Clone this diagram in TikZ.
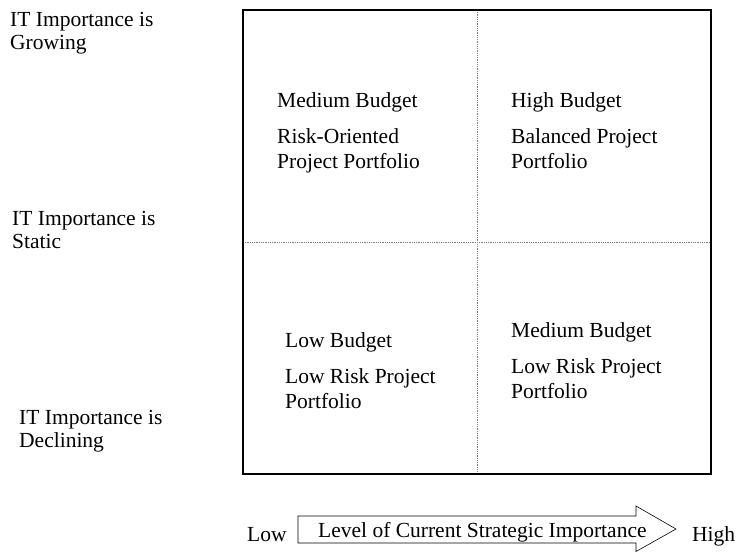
\documentclass[tikz,border=0pt]{standalone}
\usepackage{fontspec}
\setmainfont{Liberation Serif}
\tikzset{
  lbl/.style={anchor=base west,inner sep=0pt,align=left,font=\fontsize{21.5}{23}\selectfont},
  quad/.style={anchor=base west,inner sep=0pt,align=left,font=\fontsize{21.5}{25}\selectfont},
  grid/.style={gray,densely dotted,line width=0.8pt}
}
\begin{document}
\begin{tikzpicture}[x=1pt,y=-1pt]
  \useasboundingbox (0,0) rectangle (739,552);
  % matrix frame
  \coordinate (nw) at (243,10);
  \coordinate (se) at (711,474);
  \draw[grid] (477,10) -- (477,474);
  \draw[grid] (243,242) -- (711,242);
  \draw[line width=1.1pt] (nw) rectangle (se);
  % row labels (base = last line)
  \node[lbl] (grow) at (10,49) {IT Importance is\\Growing};
  \node[lbl] (stat) at (12,248) {IT Importance is\\Static};
  \node[lbl] (decl) at (19,447) {IT Importance is\\Declining};
  % quadrants
  \node[quad] (q1) at (277,168) {Medium Budget\\[11pt]Risk-Oriented\\Project Portfolio};
  \node[quad] (q2) at (511,168) {High Budget\\[11pt]Balanced Project\\Portfolio};
  \node[quad] (q3) at (285,408) {Low Budget\\[11pt]Low Risk Project\\Portfolio};
  \node[quad] (q4) at (511,398) {Medium Budget\\[11pt]Low Risk Project\\Portfolio};
  % axis arrow
  \draw[line width=0.6pt] (298,516) -- (636,516) -- (636,506) -- (676,529)
    -- (636,551.5) -- (636,543) -- (298,543) -- cycle;
  \node[lbl] (lvl) at (318,537) {Level of Current Strategic Importance};
  \node[lbl] (low) at (247,541) {Low};
  \node[lbl] (high) at (692,541) {High};
\end{tikzpicture}
\end{document}
